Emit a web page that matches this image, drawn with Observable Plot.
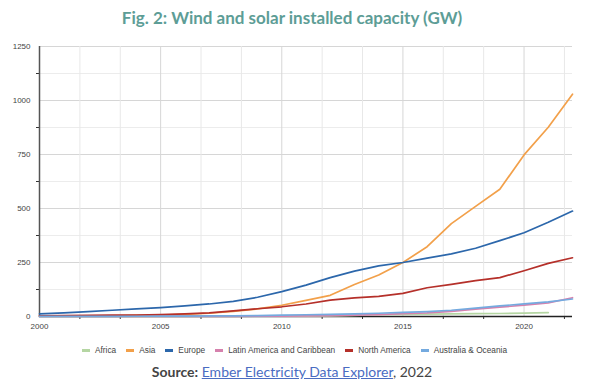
<!DOCTYPE html>
<html>
<head>
<meta charset="utf-8">
<script src="https://cdn.jsdelivr.net/npm/d3@7"></script>
<script src="https://cdn.jsdelivr.net/npm/@observablehq/plot@0.6"></script>
<style>
  body { margin: 0; background: #fff; width: 600px; height: 385px; overflow: hidden; font-family: "Liberation Sans", Arial, sans-serif; }
  #title { height: 36px; line-height: 36px; text-align: center; font-family: Lato, sans-serif; font-weight: bold; font-size: 17px; color: #5d9d96; padding-right: 16px; }
  #chart { height: 300px; }
  #legend { position: absolute; top: 345px; left: 82px; display: flex; align-items: center; font-size: 8.3px; color: #444; white-space: nowrap; }
  #legend .item { display: flex; align-items: center; margin-right: 10px; }
  #legend .sw { width: 8px; height: 3px; margin-right: 5px; }
  #source { position: absolute; top: 363px; left: 0; width: 584px; text-align: center; font-family: Lato, sans-serif; font-size: 14px; color: #444; }
  #source b { color: #444; }
  #source a { color: #4a6cc2; text-decoration: underline; }
</style>
</head>
<body>
<div id="title">Fig. 2: Wind and solar installed capacity (GW)</div>
<div id="chart"></div>
<div id="legend"></div>
<div id="source"><b>Source:</b> <a>Ember Electricity Data Explorer</a>, 2022</div>
<script>
const years = [2000, 2001, 2002, 2003, 2004, 2005, 2006, 2007, 2008, 2009, 2010, 2011, 2012, 2013, 2014, 2015, 2016, 2017, 2018, 2019, 2020, 2021, 2022];

const seriesNames = ["Africa", "Asia", "Europe", "Latin America and Caribbean", "North America", "Australia & Oceania"];
const seriesColors = ["#b5d6a3", "#f2a04a", "#2c67ab", "#d681ad", "#b5302a", "#74aadf"];

const africa    = [0.2, 0.2, 0.3, 0.3, 0.4, 0.5, 0.6, 0.8, 1, 1.2, 1.5, 2, 3, 5, 8, 10, 11, 12, 13, 14, 16, 18, null];
const asia      = [1.5, 2, 2.5, 3.5, 5, 7, 10, 15, 24, 35, 52, 75, 98, 148, 192, 250, 323, 430, 510, 589, 748, 876, 1029];
const europe    = [12, 17, 23, 29, 35, 41, 49, 58, 70, 89, 115, 145, 180, 210, 234, 250, 270, 290, 316, 351, 388, 436, 488];
const latam     = [0.3, 0.3, 0.4, 0.4, 0.5, 0.6, 0.7, 0.8, 1, 1.5, 2, 3, 4, 6, 9, 13, 17, 24, 34, 43, 53, 63, 87];
const northAm   = [3, 4, 5, 6, 7, 9, 12, 17, 26, 36, 45, 58, 76, 86, 93, 107, 133, 149, 166, 180, 212, 246, 272];
const australia = [0.5, 0.6, 0.8, 1, 1.2, 1.5, 2, 2.5, 3, 4, 6, 8, 10, 12, 15, 19, 23, 29, 39, 49, 58, 68, 81];

const seriesValues = [africa, asia, europe, latam, northAm, australia];

const xMajor = [2000, 2005, 2010, 2015, 2020];
const xMinor = [2001 + 2/3, 2003 + 1/3, 2006 + 2/3, 2008 + 1/3, 2011 + 2/3, 2013 + 1/3, 2016 + 2/3, 2018 + 1/3, 2021 + 2/3];
const yMajor = [0, 250, 500, 750, 1000, 1250];
const yMinor = [125, 375, 625, 875, 1125];

const rows = [];
seriesNames.forEach((name, i) => {
  seriesValues[i].forEach((v, j) => {
    if (v != null) rows.push({series: name, year: years[j], value: v});
  });
});

const chart = Plot.plot({
  width: 600,
  height: 300,
  marginLeft: 39,
  marginRight: 28,
  marginTop: 10,
  marginBottom: 20,
  style: {fontFamily: '"Liberation Sans", Arial, sans-serif', fontSize: "8px", color: "#444", background: "#fff"},
  x: {domain: [2000, 2022]},
  y: {domain: [0, 1250]},
  color: {domain: seriesNames, range: seriesColors},
  marks: [
    Plot.ruleY(yMinor, {stroke: "#ececec"}),
    Plot.ruleY(yMajor.slice(1), {stroke: "#d6d6d6"}),
    Plot.ruleX(xMinor, {stroke: "#e8e8e8"}),
    Plot.ruleX(xMajor.slice(1), {stroke: "#d6d6d6"}),
    Plot.axisY({ticks: yMajor, tickSize: 0, tickPadding: 9, tickFormat: "d", label: null, fontSize: 8}),
    Plot.axisX({ticks: xMajor, tickSize: 0, tickPadding: 7, tickFormat: "d", label: null, fontSize: 8}),
    Plot.axisY({ticks: yMinor, tickSize: 3, tickFormat: () => "", label: null, stroke: "#333"}),
    Plot.axisX({ticks: xMinor, tickSize: 3, tickFormat: () => "", label: null, stroke: "#333"}),
    Plot.ruleX([2000], {stroke: "#555", strokeWidth: 1.5}),
    Plot.ruleY([0], {stroke: "#222", strokeWidth: 1.5}),
    Plot.line(rows, {x: "year", y: "value", z: "series", stroke: "series", strokeWidth: 1.7})
  ]
});
document.getElementById("chart").appendChild(chart);

const legend = document.getElementById("legend");
seriesNames.forEach((name, i) => {
  const item = document.createElement("div");
  item.className = "item";
  const sw = document.createElement("div");
  sw.className = "sw";
  sw.style.background = seriesColors[i];
  const t = document.createElement("span");
  t.textContent = name;
  item.appendChild(sw);
  item.appendChild(t);
  legend.appendChild(item);
});
</script>
</body>
</html>
